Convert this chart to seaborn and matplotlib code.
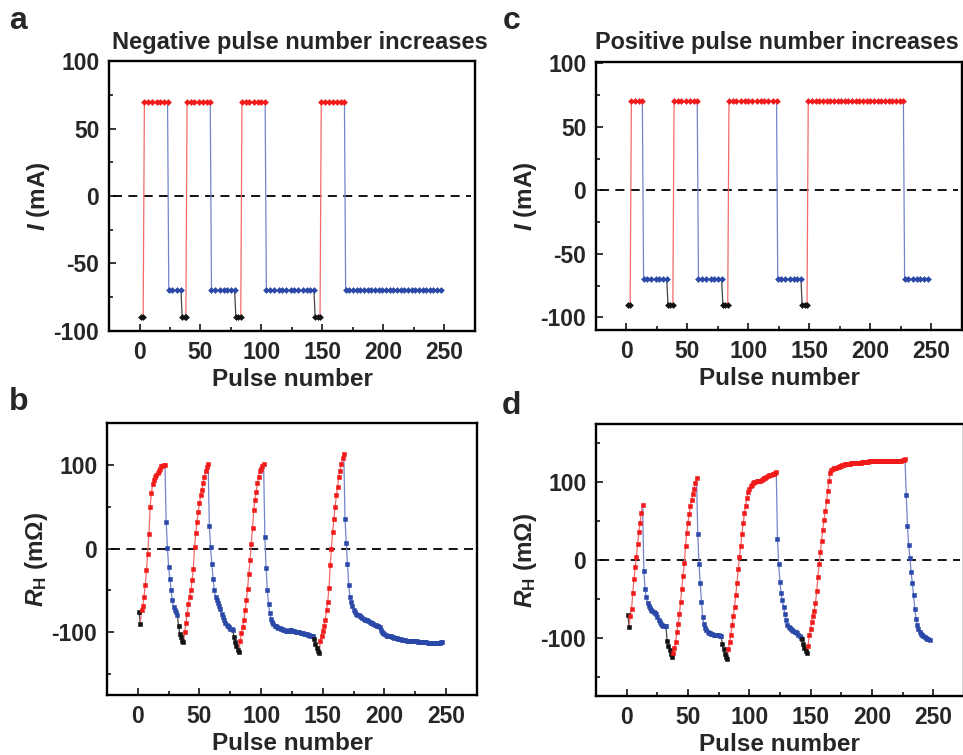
import matplotlib
matplotlib.use('Agg')
import matplotlib.pyplot as plt
from matplotlib.ticker import MultipleLocator
import seaborn as sns

# ---- data -------------------------------------------------------------
# segment kinds: 'set' = -90 mA reset pulses, 'pos' = +70 mA, 'neg' = -70 mA
kinds = ['set', 'pos', 'neg', 'set', 'pos', 'neg', 'set', 'pos', 'neg', 'set', 'pos', 'neg']
current_level = {'set': -90, 'pos': 70, 'neg': -70}

# panel a : pulse numbers shown in the current sequence
a_pulse = [
    [1, 3],
    [4, 7, 10, 14, 17, 20, 23],
    [24, 27, 31, 34],
    [35, 37, 38],
    [39, 42, 45, 49, 52, 55, 58],
    [59, 62, 66, 69, 72, 75, 78],
    [79, 81, 83],
    [84, 87, 90, 94, 97, 100, 103],
    [104, 107, 110, 114, 117, 120, 124, 127, 130, 134, 137, 140, 143],
    [144, 146, 148],
    [149, 152, 155, 159, 162, 165, 168],
    [169, 172, 175, 178, 181, 184, 187, 190, 193, 196, 199, 202, 205, 208,
     211, 214, 217, 220, 223, 226, 229, 232, 235, 238, 241, 244, 247],
]

# panel c
c_pulse = [
    [1, 3],
    [4, 7, 10, 13],
    [14, 17, 20, 24, 27, 30, 33],
    [34, 36, 38],
    [39, 42, 45, 49, 52, 55, 58],
    [59, 62, 65, 69, 72, 75, 78],
    [79, 81, 83],
    [84, 87, 90, 94, 97, 100, 103, 107, 110, 113, 116, 120, 123],
    [124, 127, 130, 134, 137, 140, 143],
    [144, 146, 148],
    [149, 152, 155, 158, 161, 164, 167, 170, 173, 176, 179, 182, 185, 188,
     191, 194, 197, 200, 203, 206, 209, 212, 215, 218, 221, 224, 227],
    [228, 231, 235, 238, 241, 244, 247],
]

# panel b : Hall resistance (mOhm), one value per pulse
b_start = [1, 3, 23, 33, 38, 58, 78, 83, 103, 143, 148, 168]
b_rh = [
    [-76, -90],
    [-74, -69, -58, -44, -26, -7, 17, 50, 66, 77, 82, 85, 88, 90, 93, 95, 98, 99, 100, 100],
    [32, 1, -22, -36, -50, -62, -70, -74, -76, -79],
    [-92, -102, -106, -110, -112],
    [-100, -89, -78, -66, -58, -50, -38, -24, 2, 18, 32, 44, 54, 64, 70, 78, 86, 92, 97, 101],
    [27, 2, -18, -36, -49, -58, -62, -65, -69, -72, -78, -82, -86, -89, -91, -93, -94, -96, -96, -97],
    [-106, -112, -117, -121, -124],
    [-110, -101, -94, -86, -74, -62, -48, -30, -14, 5, 24, 46, 58, 68, 78, 86, 92, 95, 98, 101],
    [14, -23, -50, -66, -77, -84, -88, -90, -92, -93, -94, -95, -95, -96, -96, -97, -97, -98, -98, -98,
     -97, -97, -98, -99, -99, -100, -100, -100, -100, -101, -101, -101, -102, -102, -102, -103, -103, -104, -104, -105],
    [-108, -114, -119, -123, -125],
    [-110, -104, -98, -92, -86, -74, -64, -47, -20, 0, 20, 35, 50, 64, 74, 86, 93, 101, 108, 113],
    [35, 7, -18, -44, -58, -64, -69, -73, -76, -78, -79, -80, -81, -82, -83, -84, -85, -86, -86, -87,
     -88, -89, -89, -90, -91, -91, -92, -93, -94, -97, -100, -101, -102, -103, -104, -104, -105, -105, -106, -106,
     -107, -107, -107, -108, -108, -108, -109, -109, -109, -109, -110, -110, -110, -110, -111, -111, -111, -111, -111, -112,
     -112, -112, -112, -112, -112, -112, -112, -113, -113, -113, -113, -113, -113, -113, -113, -113, -113, -113, -112, -112],
]

# panel d
d_start = [1, 3, 14, 33, 38, 58, 78, 83, 123, 143, 148, 228]
d_rh = [
    [-71, -86],
    [-72, -63, -43, -24, -9, 4, 21, 36, 48, 61, 71],
    [-14, -37, -48, -55, -59, -62, -64, -65, -67, -68, -70, -73, -77, -80, -82, -84, -85, -85, -85],
    [-104, -110, -116, -121, -125],
    [-119, -113, -105, -93, -82, -70, -54, -37, -20, -4, 18, 35, 48, 59, 69, 77, 85, 92, 99, 105],
    [34, -5, -30, -54, -73, -82, -87, -90, -92, -94, -94, -95, -95, -96, -96, -96, -97, -97, -98, -98],
    [-108, -115, -121, -125, -127],
    [-114, -106, -96, -84, -72, -60, -45, -29, -12, 4, 18, 33, 47, 60, 70, 80, 87, 92, 95, 97,
     99, 100, 101, 102, 102, 102, 102, 103, 104, 105, 106, 107, 108, 109, 110, 110, 111, 111, 112, 113],
    [27, -5, -28, -43, -52, -61, -69, -77, -83, -86, -88, -89, -90, -91, -92, -93, -94, -96, -98, -100],
    [-102, -108, -113, -117, -120],
    [-110, -97, -89, -80, -72, -65, -55, -40, -22, -5, 10, 25, 39, 52, 63, 76, 89, 102, 112, 116,
     117, 118, 119, 119, 120, 120, 121, 121, 122, 122, 123, 123, 124, 124, 124, 125, 125, 125, 125, 125,
     125, 125, 125, 125, 126, 126, 126, 126, 126, 126, 127, 127, 127, 127, 128, 128, 128, 128, 128, 128,
     128, 128, 128, 128, 128, 128, 128, 128, 128, 128, 127, 128, 128, 128, 128, 128, 128, 129, 129, 130],
    [84, 44, 19, 3, -16, -30, -45, -63, -76, -83, -89, -92, -95, -97, -98, -99, -100, -101, -102, -103],
]

# ---- style ------------------------------------------------------------
sns.set_style('ticks')
plt.rcParams['font.family'] = ['Liberation Sans', 'DejaVu Sans']
plt.rcParams['font.weight'] = 'bold'
plt.rcParams['axes.labelweight'] = 'bold'
plt.rcParams['axes.unicode_minus'] = False
plt.rcParams['mathtext.fontset'] = 'custom'
plt.rcParams['mathtext.rm'] = 'Liberation Sans:bold'
plt.rcParams['mathtext.it'] = 'Liberation Sans:bold:italic'
plt.rcParams['mathtext.bf'] = 'Liberation Sans:bold'

mark_col = {'set': '#111111', 'pos': '#f01a1a', 'neg': '#2a48a8'}
line_col = {'set': '#444444', 'pos': '#f26a6a', 'neg': '#7484cc'}


def draw_segments(ax, xs_list, ys_list, marker, size):
    prev = None
    for xs, ys, k in zip(xs_list, ys_list, kinds):
        lx, ly = list(xs), list(ys)
        if prev is not None:
            lx = [prev[0]] + lx
            ly = [prev[1]] + ly
        sns.lineplot(x=lx, y=ly, color=line_col[k], lw=0.9, sort=False,
                     estimator=None, ax=ax, legend=False, zorder=2)
        sns.scatterplot(x=list(xs), y=list(ys), color=mark_col[k], marker=marker,
                        s=size, edgecolor=mark_col[k], linewidth=0.4, ax=ax,
                        legend=False, zorder=3)
        prev = (xs[-1], ys[-1])


def style_axis(ax, ymaj, ymin, ylim, ylabel):
    ax.axhline(0, xmin=0.01, xmax=0.99, color='black', lw=1.3, ls=(0, (5, 3.5)), zorder=1)
    ax.set_xlim(-25, 275)
    ax.set_ylim(*ylim)
    ax.xaxis.set_major_locator(MultipleLocator(50))
    ax.xaxis.set_minor_locator(MultipleLocator(25))
    ax.yaxis.set_major_locator(MultipleLocator(ymaj))
    ax.yaxis.set_minor_locator(MultipleLocator(ymin))
    ax.tick_params(which='both', direction='in', width=1.3, labelsize=16.5, pad=7,
                   top=False, right=False)
    ax.tick_params(which='major', length=5)
    ax.tick_params(which='minor', length=3)
    for sp in ax.spines.values():
        sp.set_linewidth(1.7)
        sp.set_color('black')
    ax.set_xlabel('Pulse number', fontsize=17.5, fontweight='bold', labelpad=3)
    ax.set_ylabel(ylabel, fontsize=17.5, fontweight='bold', labelpad=1)
    for lab in ax.get_xticklabels() + ax.get_yticklabels():
        lab.set_fontweight('bold')


fig = plt.figure(figsize=(9.63, 7.55), dpi=100)
ax_a = fig.add_axes([0.1132, 0.5616, 0.380, 0.3576])
ax_b = fig.add_axes([0.1111, 0.0795, 0.3842, 0.3603])
ax_c = fig.add_axes([0.6189, 0.5629, 0.380, 0.3550])
ax_d = fig.add_axes([0.6189, 0.0781, 0.382, 0.3603])

# current panels
draw_segments(ax_a, a_pulse, [[current_level[k]] * len(p) for p, k in zip(a_pulse, kinds)], 'D', 9)
draw_segments(ax_c, c_pulse, [[current_level[k]] * len(p) for p, k in zip(c_pulse, kinds)], 'D', 9)

# Hall resistance panels
b_x = [list(range(s, s + len(v))) for s, v in zip(b_start, b_rh)]
d_x = [list(range(s, s + len(v))) for s, v in zip(d_start, d_rh)]
draw_segments(ax_b, b_x, b_rh, 's', 7)
draw_segments(ax_d, d_x, d_rh, 's', 7)

style_axis(ax_a, 50, 25, (-100, 100), r'$I$ (mA)')
style_axis(ax_c, 50, 25, (-110, 101), r'$I$ (mA)')
style_axis(ax_b, 100, 50, (-175, 150), r'$R_{\mathrm{H}}$ (mΩ)')
style_axis(ax_d, 100, 50, (-175, 175), r'$R_{\mathrm{H}}$ (mΩ)')

fig.text(0.3115, 0.944, 'Negative pulse number increases', ha='center', va='center',
         fontsize=17, fontweight='bold')
fig.text(0.996, 0.944, 'Positive pulse number increases', ha='right', va='center',
         fontsize=16.8, fontweight='bold')
for lab, x, y in [('a', 0.019, 0.972), ('c', 0.531, 0.972), ('b', 0.019, 0.468), ('d', 0.531, 0.462)]:
    fig.text(x, y, lab, ha='center', va='center', fontsize=23, fontweight='bold')

fig.savefig('out.png', dpi=100)
